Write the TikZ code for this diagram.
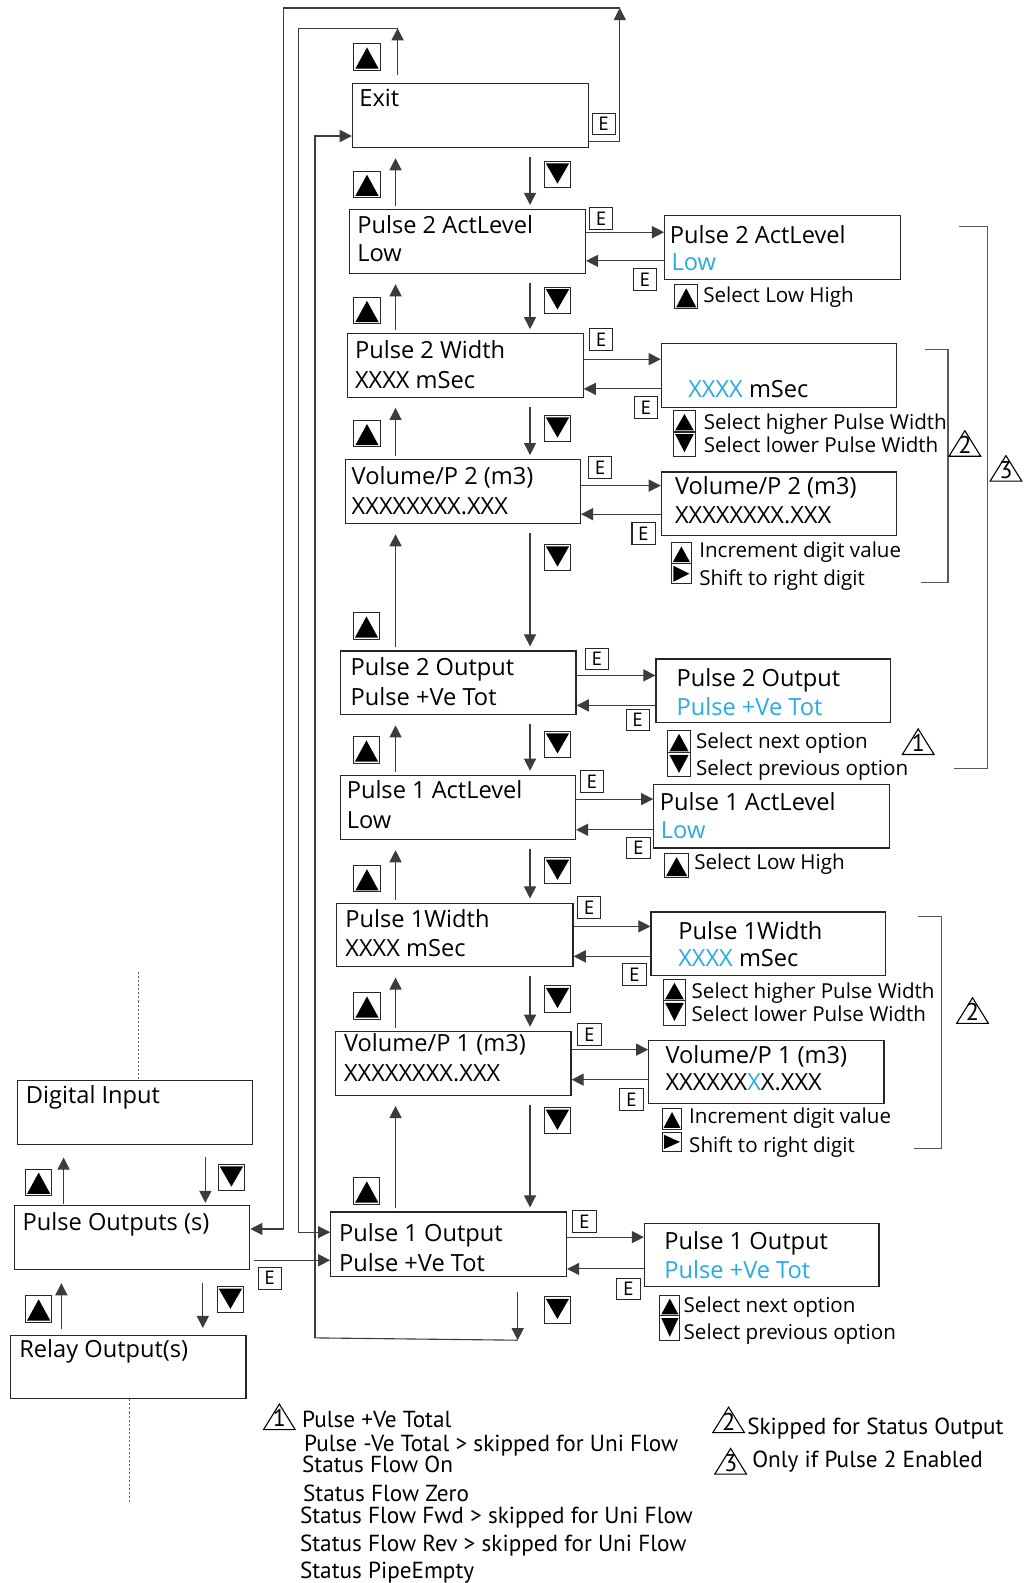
\documentclass[tikz,border=0pt]{standalone}
\usepackage{fontspec}
\setmainfont{Open Sans}
\newfontfamily\legfont{PT Sans}
\usetikzlibrary{arrows.meta,calc}
\definecolor{lblue}{RGB}{41,171,226}
\definecolor{lnk}{RGB}{60,60,60}
\begin{document}
\begin{tikzpicture}[x=1pt,y=-1pt,
  box/.style={draw=black!85, line width=1.2pt, inner sep=0pt, anchor=north west},
  mt/.style={anchor=base west, inner sep=0pt, font=\fontsize{23.4}{28}\selectfont},
  ht/.style={anchor=base west, inner sep=0pt, font=\fontsize{20.4}{25}\selectfont},
  lg/.style={anchor=base west, inner sep=0pt, font=\legfont\fontsize{23}{26}\selectfont},
  ebox/.style={draw=black!85, line width=1pt, inner sep=0pt, anchor=north west, minimum width=23, minimum height=21.5, font=\legfont\fontsize{19}{19}\selectfont},
  kb/.style={draw=black!85, line width=1pt, inner sep=0pt, anchor=north west},
  kup/.style={kb, path picture={\fill ([shift={(1.5pt,1.5pt)}]path picture bounding box.south west) -- ([shift={(-1.5pt,1.5pt)}]path picture bounding box.south east) -- ([shift={(0pt,-3.5pt)}]path picture bounding box.north) -- cycle;}},
  kdown/.style={kb, path picture={\fill ([shift={(1.5pt,-2pt)}]path picture bounding box.north west) -- ([shift={(-1.5pt,-2pt)}]path picture bounding box.north east) -- ([shift={(0pt,4pt)}]path picture bounding box.south) -- cycle;}},
  kright/.style={kb, path picture={\fill ([shift={(2pt,-2pt)}]path picture bounding box.north west) -- ([shift={(2pt,2pt)}]path picture bounding box.south west) -- ([shift={(-2pt,0pt)}]path picture bounding box.east) -- cycle;}},
  mk/.style={kup, minimum width=26, minimum height=26},
  md/.style={kdown, minimum width=26, minimum height=26},
  conn/.style={draw=lnk, line width=1.1pt},
  arr/.style={conn, -{Triangle[length=12pt,width=12pt]}},
  brk/.style={draw=black!65, line width=1pt},
  dots/.style={draw=black!60, line width=0.8pt, dash pattern=on 2pt off 2pt},
  warn/.style={anchor=north west, inner sep=0pt, minimum width=33, minimum height=26.5, text height=20pt, text depth=0pt, font=\legfont\fontsize{24}{24}\selectfont,
    path picture={\draw[line width=1.1pt] ([shift={(0.8pt,0.6pt)}]path picture bounding box.south west) -- ([shift={(-0.8pt,0.6pt)}]path picture bounding box.south east) -- ([shift={(0pt,-0.6pt)}]path picture bounding box.north) -- cycle;}}
]
\useasboundingbox[fill=white] (0,0) rectangle (1015,1568);

% ---------- main column boxes ----------
\node[box, minimum width=234, minimum height=63] (exit) at (348.5,82.5) {};
\node[box, minimum width=233.7, minimum height=63.3] (p2al) at (345.6,207) {};
\node[box, minimum width=233.1, minimum height=62.8] (p2w) at (343.9,330) {};
\node[box, minimum width=232.7, minimum height=63.2] (v2) at (341.6,454.8) {};
\node[box, minimum width=233.3, minimum height=63] (p2o) at (336.7,644.3) {};
\node[box, minimum width=232.7, minimum height=63.5] (p1al) at (336.7,767.4) {};
\node[box, minimum width=234, minimum height=63] (p1w) at (333,894) {};
\node[box, minimum width=233, minimum height=63.3] (v1) at (332,1021) {};
\node[box, minimum width=233.5, minimum height=63.5] (p1o) at (327,1200) {};

\node[mt] (t-exit) at (355.8,105.6) {Exit};
\node[mt] (t-p2al1) at (353.8,231) {Pulse 2 ActLevel};
\node[mt] (t-p2al2) at (353.8,258.6) {Low};
\node[mt] (t-p2w1) at (351.5,355.5) {Pulse 2 Width};
\node[mt] (t-p2w2) at (351.5,384.5) {XXXX mSec};
\node[mt] (t-v21) at (348.2,480.3) {Volume/P 2 (m3)};
\node[mt] (t-v22) at (348.2,510) {XXXXXXXX.XXX};
\node[mt] (t-p2o1) at (347.2,669.4) {Pulse 2 Output};
\node[mt] (t-p2o2) at (347.2,698.7) {Pulse +Ve Tot};
\node[mt] (t-p1al1) at (343.3,791.2) {Pulse 1 ActLevel};
\node[mt] (t-p1al2) at (343.3,820.2) {Low};
\node[mt] (t-p1w1) at (342,919) {Pulse 1Width};
\node[mt] (t-p1w2) at (342,947) {XXXX mSec};
\node[mt] (t-v11) at (340.6,1042) {Volume/P 1 (m3)};
\node[mt] (t-v12) at (340.6,1071) {XXXXXXXX.XXX};
\node[mt] (t-p1o1) at (335.7,1229.4) {Pulse 1 Output};
\node[mt] (t-p1o2) at (335.7,1259.1) {Pulse +Ve Tot};

% ---------- left column ----------
\node[box, minimum width=232.7, minimum height=63.4] (din) at (16.6,1069.4) {};
\node[box, minimum width=233.4, minimum height=63.3] (pout) at (13.4,1193.5) {};
\node[box, minimum width=233.1, minimum height=63] (relay) at (9.9,1321.9) {};
\node[mt] (t-din) at (25.5,1093.5) {Digital Input};
\node[mt] (t-pout) at (22.3,1219) {Pulse Outputs (s)};
\node[mt] (t-relay) at (19,1345) {Relay Output(s)};

% ---------- edit boxes ----------
\node[box, minimum width=233.4, minimum height=63.4] (p2ale) at (657.8,212.9) {};
\node[box, minimum width=232.7, minimum height=63.3] (p2we) at (654.5,340) {};
\node[box, minimum width=232.7, minimum height=62.7] (v2e) at (654.5,467) {};
\node[box, minimum width=232.1, minimum height=62.7] (p2oe) at (649.2,652.2) {};
\node[box, minimum width=233.3, minimum height=62.8] (p1ale) at (647,776.6) {};
\node[box, minimum width=232, minimum height=62.8] (p1we) at (644.3,902.7) {};
\node[box, minimum width=233, minimum height=62.7] (v1e) at (642,1029.8) {};
\node[box, minimum width=232.2, minimum height=62.7] (p1oe) at (637.8,1211.3) {};

\node[mt] (e-p2al1) at (663.4,241) {Pulse 2 ActLevel};
\node[mt, text=lblue] (e-p2al2) at (665,268.3) {Low};
\node[mt] (e-p2w) at (681.6,393.4) {\textcolor{lblue}{XXXX} mSec};
\node[mt] (e-v21) at (668.4,490) {Volume/P 2 (m3)};
\node[mt] (e-v22) at (668.4,518.9) {XXXXXXXX.XXX};
\node[mt] (e-p2o1) at (670,680) {Pulse 2 Output};
\node[mt, text=lblue] (e-p2o2) at (670,709) {Pulse +Ve Tot};
\node[mt] (e-p1al1) at (653.5,803) {Pulse 1 ActLevel};
\node[mt, text=lblue] (e-p1al2) at (654.5,830.8) {Low};
\node[mt] (e-p1w1) at (671.7,930.1) {Pulse 1Width};
\node[mt] (e-p1w2) at (671.7,957.8) {\textcolor{lblue}{XXXX} mSec};
\node[mt] (e-v11) at (659,1053) {Volume/P 1 (m3)};
\node[mt] (e-v12) at (659,1080.3) {XXXXXX\textcolor{lblue}{X}X.XXX};
\node[mt] (e-p1o1) at (657.9,1237.7) {Pulse 1 Output};
\node[mt, text=lblue] (e-p1o2) at (657.9,1266.8) {Pulse +Ve Tot};

% ---------- hints ----------
\node[kup, minimum width=23, minimum height=24] (h1a) at (667.7,281.5) {};
\node[ht] (h1t) at (696.4,299.4) {Select Low High};
\node[kup, minimum width=21.5, minimum height=21.4] (h2a) at (666.7,406) {};
\node[kdown, minimum width=21.5, minimum height=24] (h2b) at (666.7,427.4) {};
\node[ht] (h2t1) at (697,425.8) {Select higher Pulse Width};
\node[ht] (h2t2) at (697,448.2) {Select lower Pulse Width};
\node[kup, minimum width=20, minimum height=20.5] (h3a) at (664.4,537.3) {};
\node[kright, minimum width=20, minimum height=20] (h3b) at (664.4,557.8) {};
\node[ht] (h3t1) at (692.5,551.9) {Increment digit value};
\node[ht] (h3t2) at (692.5,580.3) {Shift to right digit};
\node[kup, minimum width=22, minimum height=22.5] (h4a) at (661.1,722.8) {};
\node[kdown, minimum width=22, minimum height=23.7] (h4b) at (661.1,745.3) {};
\node[ht] (h4t1) at (689.2,741) {Select next option};
\node[ht] (h4t2) at (689.2,768.4) {Select previous option};
\node[kup, minimum width=23.8, minimum height=23.7] (h5a) at (657.8,845) {};
\node[ht] (h5t) at (687.5,861.5) {Select Low High};
\node[kup, minimum width=21.5, minimum height=21.4] (h6a) at (656.8,969.4) {};
\node[kdown, minimum width=21.5, minimum height=24] (h6b) at (656.8,990.8) {};
\node[ht] (h6t1) at (684.9,989.5) {Select higher Pulse Width};
\node[ht] (h6t2) at (684.9,1011.6) {Select lower Pulse Width};
\node[kup, minimum width=19.7, minimum height=20.7] (h7a) at (655.3,1097.5) {};
\node[kright, minimum width=19.7, minimum height=18] (h7b) at (655.3,1121.6) {};
\node[ht] (h7t1) at (682.5,1113) {Increment digit value};
\node[ht] (h7t2) at (682.5,1142) {Shift to right digit};
\node[kup, minimum width=20, minimum height=20.7] (h8a) at (653,1282.3) {};
\node[kdown, minimum width=20, minimum height=24.6] (h8b) at (653,1303) {};
\node[ht] (h8t1) at (677,1300.4) {Select next option};
\node[ht] (h8t2) at (677,1326.9) {Select previous option};

% ---------- E boxes ----------
\node[ebox] (e0) at (586,111.6) {E};
\node[ebox] (e1a) at (583.5,205.3) {E};
\node[ebox] (e1b) at (627,265.5) {E};
\node[ebox] (e2a) at (583.5,325) {E};
\node[ebox] (e2b) at (627.8,392.5) {E};
\node[ebox] (e3a) at (582.5,452) {E};
\node[ebox] (e3b) at (625.5,517.2) {E};
\node[ebox] (e4a) at (579.3,641.5) {E};
\node[ebox] (e4b) at (619.8,701.8) {E};
\node[ebox] (e5a) at (574.3,763.1) {E};
\node[ebox] (e5b) at (620.5,828.8) {E};
\node[ebox] (e6a) at (571.7,887.5) {E};
\node[ebox] (e6b) at (616.5,953.9) {E};
\node[ebox] (e7a) at (571.9,1013.5) {E};
\node[ebox] (e7b) at (613.6,1078) {E};
\node[ebox] (e8a) at (567,1198.5) {E};
\node[ebox] (e8b) at (610.6,1265.5) {E};
\node[ebox] (e9) at (255.3,1254.8) {E};

% ---------- main column key boxes ----------
\node[mk] (k0) at (350,43) {};
\node[mk] (k1u) at (350,169) {};
\node[md] (k1d) at (538.7,159.4) {};
\node[mk] (k2u) at (350,294) {};
\node[md] (k2d) at (538.7,284) {};
\node[mk] (k3u) at (350,416) {};
\node[md] (k3d) at (538.7,411) {};
\node[mk] (k4u) at (349.5,606.6) {};
\node[md] (k4d) at (538.7,538.7) {};
\node[mk] (k5u) at (349.5,729.4) {};
\node[md] (k5d) at (538.7,723.8) {};
\node[mk] (k6u) at (350,857) {};
\node[md] (k6d) at (538.7,849) {};
\node[mk] (k7u) at (350,983) {};
\node[md] (k7d) at (538.7,976) {};
\node[mk] (k8u) at (349.8,1166.1) {};
\node[md] (k8d) at (538.6,1096.7) {};
\node[md] (k9d) at (538.6,1284) {};
\node[mk] (kl1u) at (24.8,1157.5) {};
\node[md] (kl1d) at (215.7,1152.9) {};
\node[mk] (kl2u) at (24.8,1283) {};
\node[md] (kl2d) at (214.7,1274) {};

% ---------- vertical arrows, main column ----------
\coordinate (ux) at (391.8,0);
\coordinate (dx) at (525,0);
\foreach \U/\L in {exit/p2al, p2al/p2w, p2w/v2, v2/p2o, p2o/p1al, p1al/p1w, p1w/v1, v1/p1o}{
  \draw[arr] ($(ux |- \L.north)+(0,-3)$) -- ($(ux |- \U.south)+(0,10)$);
  \draw[arr] ($(dx |- \U.south)+(0,9)$) -- ($(dx |- \L.north)+(0,-4)$);
}

% left column
\coordinate (lu1) at (63,0);
\coordinate (ld1) at (203.4,0);
\coordinate (lu2) at (60.8,0);
\coordinate (ld2) at (200.9,0);
\draw[arr] ($(lu1 |- pout.north)+(0,-1)$) -- ($(lu1 |- din.south)+(0,12.5)$);
\draw[arr] ($(ld1 |- din.south)+(0,12)$) -- ($(ld1 |- pout.north)+(0,-2)$);
\draw[arr] ($(lu2 |- relay.north)+(0,-5.5)$) -- ($(lu2 |- pout.south)+(0,13)$);
\draw[arr] ($(ld2 |- pout.south)+(0,13)$) -- ($(ld2 |- relay.north)+(0,-6.5)$);

% ---------- horizontal arrows to edit boxes ----------
\foreach \M/\E/\ry/\ly in {p2al/p2ale/230/258.4, p2w/p2we/355.8/385.2, v2/v2e/481/509.3, p2o/p2oe/669/698.7, p1al/p1ale/791.5/821.9, p1w/p1we/917.6/947.3, v1/v1e/1039.7/1069.4, p1o/p1oe/1225.4/1256.9}{
  \draw[arr] (\M.east |- 0,\ry) -- (\E.west |- 0,\ry);
  \draw[arr] (\E.west |- 0,\ly) -- (\M.east |- 0,\ly);
}

% ---------- loops ----------
\coordinate (a1) at (613.9,140.3);
\coordinate (a2) at (613.9,7.9);
\coordinate (a3) at (281.2,7.9);
\coordinate (a4) at (281.2,1217.3);
\draw[conn] (exit.east |- a1) -- (a1);
\draw[arr] (a1) -- (a2);
\draw[arr] (a2) -- (a3) -- (a4) -- (pout.east |- a4);

\coordinate (b0) at (393.8,0);
\coordinate (b1) at (393.8,28);
\coordinate (b2) at (295.4,28);
\coordinate (b3) at (295.4,1220.5);
\draw[arr] ($(b0 |- exit.north)+(0,-8)$) -- (b1);
\draw[conn] (b1) -- (b2);
\draw[arr] (b2) -- (b3) -- (p1o.west |- b3);

\coordinate (c0) at (512.8,0);
\coordinate (c1) at (512.8,1327.5);
\coordinate (c2) at (312,1325.2);
\coordinate (c3) at (312,134.7);
\draw[arr] ($(c0 |- p1o.south)+(0,15)$) -- (c1);
\draw[conn] (c1) -- (c2);
\draw[arr] (c2) -- (c3) -- (exit.west |- c3);

\coordinate (pe) at (0,1248.3);
\draw[arr] ($(pout.east |- pe)+(3.5,0)$) -- (p1o.west |- pe);

% ---------- dotted lines ----------
\coordinate (d1) at (137,963);
\coordinate (d2) at (128,1490);
\draw[dots] (d1) -- (d1 |- din.north);
\draw[dots] (relay.south -| d2) -- (d2);

% ---------- brackets and markers ----------
\draw[brk] (916,346.6) -- (939,346.6) -- (939,577) -- (912.6,577);
\draw[brk] (950,224.4) -- (978.6,224.4) -- (978.6,760.8) -- (945,760.8);
\draw[brk] (909.3,907.7) -- (932.4,907.7) -- (932.4,1138) -- (905,1138);

\node[warn] (w2a) at (939,425.8) {2};
\node[warn] (w3a) at (979.7,450.5) {3};
\node[warn] (w1a) at (892.8,721.2) {1};
\node[warn] (w2b) at (946.6,987.5) {2};

% ---------- legend ----------
\node[warn] (lw1) at (260,1390) {1};
\node[lg] (l1) at (299,1414) {Pulse +Ve Total};
\node[lg] (l2) at (301,1438) {Pulse -Ve Total > skipped for Uni Flow};
\node[lg] (l3) at (299,1459) {Status Flow On};
\node[lg] (l4) at (300,1487) {Status Flow Zero};
\node[lg] (l5) at (297,1509) {Status Flow Fwd > skipped for Uni Flow};
\node[lg] (l6) at (297,1537) {Status Flow Rev > skipped for Uni Flow};
\node[lg] (l7) at (297,1564) {Status PipeEmpty};
\node[warn] (lw2) at (705,1393) {2};
\node[lg] (l8) at (740,1421) {Skipped for Status Output};
\node[warn] (lw3) at (707,1434) {3};
\node[lg] (l9) at (745,1454) {Only if Pulse 2 Enabled};
\end{tikzpicture}
\end{document}
